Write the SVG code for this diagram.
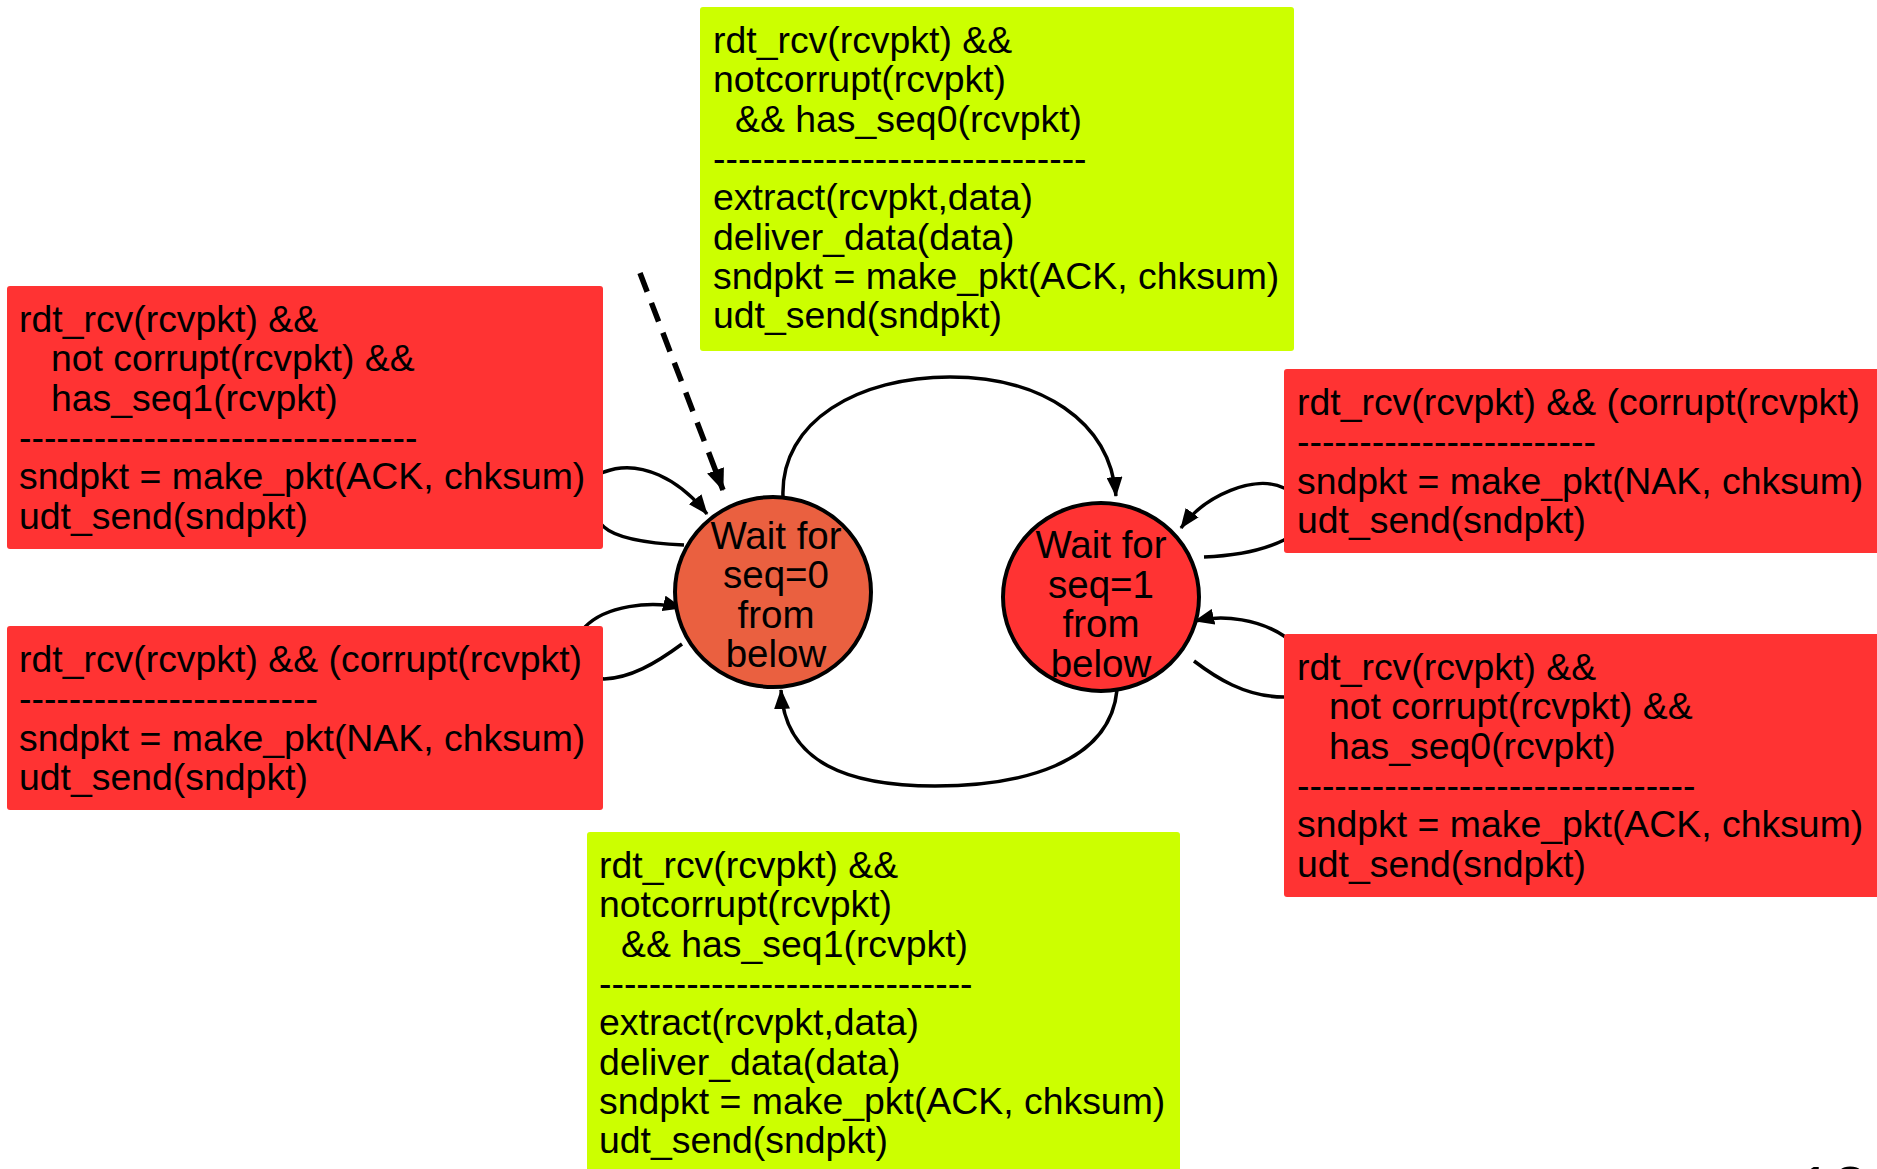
<svg xmlns="http://www.w3.org/2000/svg" width="1877" height="1169" viewBox="0 0 1877 1169">
<defs>
<style>
.t{font-family:"Liberation Sans",Arial,Helvetica,sans-serif;font-size:37.4px;fill:#000}
.c{text-anchor:middle;font-size:38.5px}
.red{fill:#FF3333}
.grn{fill:#CCFF00}
.edge{fill:none;stroke:#000;stroke-width:3.5}
.dash{fill:none;stroke:#000;stroke-width:5.5;stroke-dasharray:20 12}
.st{stroke:#000;stroke-width:4}
</style>
<marker id="ah" markerUnits="userSpaceOnUse" markerWidth="20" markerHeight="16" refX="19" refY="8" orient="auto">
<path d="M0,0 L20,8 L0,16 z" fill="#000"/>
</marker>
<marker id="ahd" markerUnits="userSpaceOnUse" markerWidth="22" markerHeight="18" refX="21" refY="9" orient="auto">
<path d="M0,0 L22,9 L0,18 z" fill="#000"/>
</marker>
</defs>
<rect width="1877" height="1169" fill="#fff"/>
<g id="connectors">
<path class="dash" d="M640 273 L723 490" marker-end="url(#ahd)"/>
<path class="edge" d="M783 497 C780 420 860 377 950 377 C1040 377 1110 420 1116 496" marker-end="url(#ah)"/>
<path class="edge" d="M1117 690 C1110 764 1020 786 935 786 C850 786 785 764 781 690" marker-end="url(#ah)"/>
<path class="edge" d="M684 545 C640 543 615 537 604 527 C585 510 585 480 604 472 C640 458 680 480 707 514" marker-end="url(#ah)"/>
<path class="edge" d="M682 644 C655 664 630 678 604 679 C578 675 572 640 585 627 C605 606 650 600 682 608" marker-end="url(#ah)"/>
<path class="edge" d="M1204 557 C1230 556 1260 552 1284 540 C1300 530 1300 495 1284 488 C1255 474 1205 495 1181 528" marker-end="url(#ah)"/>
<path class="edge" d="M1194 661 C1215 677 1245 697 1284 697 C1300 697 1305 650 1284 636 C1260 620 1225 614 1195 621" marker-end="url(#ah)"/>
</g>
<g id="state-seq0">
<ellipse cx="773" cy="592" rx="98" ry="95" fill="#EA6040" class="st"/>
<text class="t c" x="776" y="549">Wait for</text>
<text class="t c" x="776" y="588">seq=0</text>
<text class="t c" x="776" y="628">from</text>
<text class="t c" x="776" y="667">below</text>
</g>
<g id="state-seq1">
<ellipse cx="1101" cy="597" rx="98" ry="94" fill="#FF3333" class="st"/>
<text class="t c" x="1101" y="558">Wait for</text>
<text class="t c" x="1101" y="598">seq=1</text>
<text class="t c" x="1101" y="637">from</text>
<text class="t c" x="1101" y="677">below</text>
</g>
<g id="label-top">
<rect class="grn" x="700" y="7" width="594" height="344" rx="3"/>
<text class="t" x="713" y="53">rdt_rcv(rcvpkt) &amp;&amp;</text>
<text class="t" x="713" y="92">notcorrupt(rcvpkt)</text>
<text class="t" x="735" y="132">&amp;&amp; has_seq0(rcvpkt)</text>
<text class="t" x="713" y="171">------------------------------</text>
<text class="t" x="713" y="210">extract(rcvpkt,data)</text>
<text class="t" x="713" y="250">deliver_data(data)</text>
<text class="t" x="713" y="289">sndpkt = make_pkt(ACK, chksum)</text>
<text class="t" x="713" y="328">udt_send(sndpkt)</text>
</g>
<g id="label-left1">
<rect class="red" x="7" y="286" width="596" height="263" rx="3"/>
<text class="t" x="19" y="332">rdt_rcv(rcvpkt) &amp;&amp;</text>
<text class="t" x="51" y="371">not corrupt(rcvpkt) &amp;&amp;</text>
<text class="t" x="51" y="411">has_seq1(rcvpkt)</text>
<text class="t" x="19" y="450">--------------------------------</text>
<text class="t" x="19" y="489">sndpkt = make_pkt(ACK, chksum)</text>
<text class="t" x="19" y="529">udt_send(sndpkt)</text>
</g>
<g id="label-left2">
<rect class="red" x="7" y="626" width="596" height="184" rx="3"/>
<text class="t" x="19" y="672">rdt_rcv(rcvpkt) &amp;&amp; (corrupt(rcvpkt)</text>
<text class="t" x="19" y="711">------------------------</text>
<text class="t" x="19" y="751">sndpkt = make_pkt(NAK, chksum)</text>
<text class="t" x="19" y="790">udt_send(sndpkt)</text>
</g>
<g id="label-right1">
<rect class="red" x="1284" y="369" width="600" height="184" rx="3"/>
<text class="t" x="1297" y="415">rdt_rcv(rcvpkt) &amp;&amp; (corrupt(rcvpkt)</text>
<text class="t" x="1297" y="454">------------------------</text>
<text class="t" x="1297" y="494">sndpkt = make_pkt(NAK, chksum)</text>
<text class="t" x="1297" y="533">udt_send(sndpkt)</text>
</g>
<g id="label-right2">
<rect class="red" x="1284" y="634" width="600" height="263" rx="3"/>
<text class="t" x="1297" y="680">rdt_rcv(rcvpkt) &amp;&amp;</text>
<text class="t" x="1329" y="719">not corrupt(rcvpkt) &amp;&amp;</text>
<text class="t" x="1329" y="759">has_seq0(rcvpkt)</text>
<text class="t" x="1297" y="798">--------------------------------</text>
<text class="t" x="1297" y="837">sndpkt = make_pkt(ACK, chksum)</text>
<text class="t" x="1297" y="877">udt_send(sndpkt)</text>
</g>
<g id="label-bottom">
<rect class="grn" x="587" y="832" width="593" height="345" rx="3"/>
<text class="t" x="599" y="878">rdt_rcv(rcvpkt) &amp;&amp;</text>
<text class="t" x="599" y="917">notcorrupt(rcvpkt)</text>
<text class="t" x="621" y="957">&amp;&amp; has_seq1(rcvpkt)</text>
<text class="t" x="599" y="996">------------------------------</text>
<text class="t" x="599" y="1035">extract(rcvpkt,data)</text>
<text class="t" x="599" y="1075">deliver_data(data)</text>
<text class="t" x="599" y="1114">sndpkt = make_pkt(ACK, chksum)</text>
<text class="t" x="599" y="1153">udt_send(sndpkt)</text>
</g>
<text class="t" x="1797" y="1212" style="font-size:64px">13</text>
</svg>
